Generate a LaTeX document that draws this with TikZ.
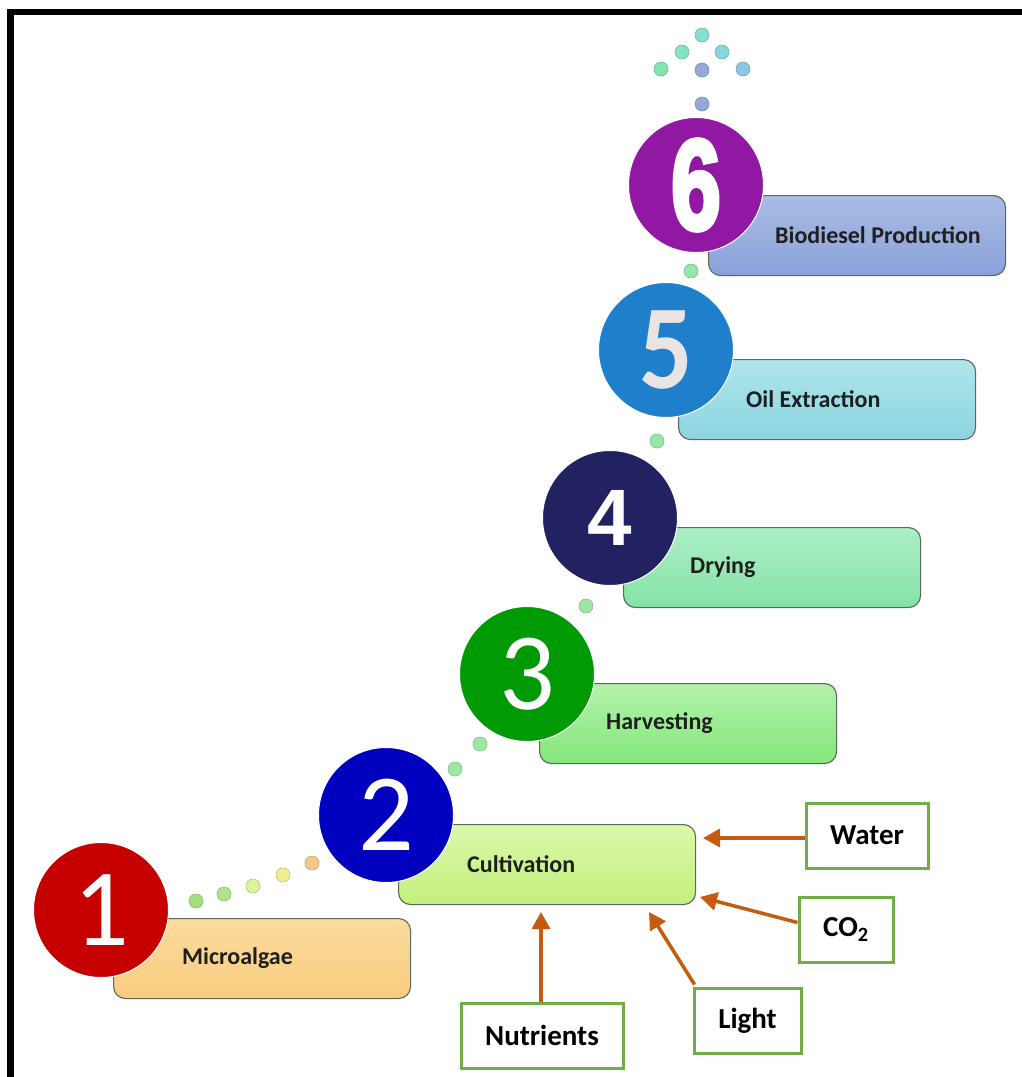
\documentclass[tikz,border=0pt]{standalone}
\usepackage{fontspec}
\usepackage{graphicx}
\setmainfont{Carlito}
\newfontfamily\numfont{Liberation Sans}
\newfontfamily\heavynum[BoldFeatures={FakeBold=4}]{Liberation Sans}
\usetikzlibrary{arrows.meta,calc}

% disc colours
\definecolor{discA}{HTML}{C60000}
\definecolor{discB}{HTML}{0000BE}
\definecolor{discC}{HTML}{009A05}
\definecolor{discD}{HTML}{222262}
\definecolor{discE}{HTML}{1F7FCB}
\definecolor{discF}{HTML}{9118A3}
% step box gradients
\definecolor{boxAt}{HTML}{FCDB9C}\definecolor{boxAb}{HTML}{F7CD80}
\definecolor{boxBt}{HTML}{DAF8AA}\definecolor{boxBb}{HTML}{C3EF7C}
\definecolor{boxCt}{HTML}{B2F2AA}\definecolor{boxCb}{HTML}{84E77A}
\definecolor{boxDt}{HTML}{ACEFC6}\definecolor{boxDb}{HTML}{84E2A6}
\definecolor{boxEt}{HTML}{AEE6EB}\definecolor{boxEb}{HTML}{8CD4DF}
\definecolor{boxFt}{HTML}{AABCE4}\definecolor{boxFb}{HTML}{8AA0DA}
\definecolor{boxline}{HTML}{5C675C}
\definecolor{inputgreen}{HTML}{70AD47}
\definecolor{feedbrown}{HTML}{C55A11}
\definecolor{fivegray}{HTML}{E8E4E4}
% trail dots
\definecolor{dA}{HTML}{A3DF7F}\definecolor{dB}{HTML}{AEE48C}
\definecolor{dC}{HTML}{DCF29C}\definecolor{dD}{HTML}{EFEF8E}
\definecolor{dE}{HTML}{F4C886}\definecolor{dG}{HTML}{9CE8A2}
\definecolor{dH}{HTML}{95E7AA}\definecolor{dI}{HTML}{93A9D9}
\definecolor{dJ}{HTML}{86E3AE}\definecolor{dK}{HTML}{86E2C2}
\definecolor{dL}{HTML}{86DFD0}\definecolor{dM}{HTML}{86D7DF}
\definecolor{dN}{HTML}{8CC7E6}

\begin{document}
\begin{tikzpicture}[x=1pt,y=-1pt,
  stepbox/.style={draw=boxline, line width=1.1pt, rounded corners=12pt,
    minimum width=297pt, minimum height=80pt, anchor=north west, inner sep=0pt},
  steplabel/.style={anchor=west, inner sep=0pt, text=black!88,
    font=\fontsize{24}{24}\selectfont\bfseries},
  stepdisc/.style={circle, minimum size=135pt, inner sep=0pt,
    draw=white, line width=1pt, text=white},
  dot/.style={fill=#1, draw=#1!82!black, line width=0.6pt},
  inputbox/.style={draw=inputgreen, line width=3pt, fill=white,
    minimum height=65pt, inner sep=0pt,
    font=\fontsize{29}{29}\selectfont\bfseries},
  feed/.style={draw=feedbrown, line width=3.5pt,
    -{Triangle[length=17pt,width=18pt]}}
]
\useasboundingbox (0,0) rectangle (1022,1077);
\fill[white] (0,0) rectangle (1022,1077);

% frame on the top and left edges
\fill[black] (7,9) rectangle (1022,15);
\fill[black] (7,9) rectangle (14,1077);

% step boxes
\node[stepbox, top color=boxAt, bottom color=boxAb] (b1) at (113,918) {};
\node[stepbox, top color=boxBt, bottom color=boxBb] (b2) at (398,824) {};
\node[stepbox, top color=boxCt, bottom color=boxCb] (b3) at (539,683) {};
\node[stepbox, top color=boxDt, bottom color=boxDb] (b4) at (623,527) {};
\node[stepbox, top color=boxEt, bottom color=boxEb] (b5) at (678,359) {};
\node[stepbox, top color=boxFt, bottom color=boxFb] (b6) at (708,195) {};

\node[steplabel] (l1) at ($(b1.west)+(69,0)$) {Microalgae};
\node[steplabel] (l2) at ($(b2.west)+(69,0)$) {Cultivation};
\node[steplabel] (l3) at ($(b3.west)+(67,0)$) {Harvesting};
\node[steplabel] (l4) at ($(b4.west)+(67,0)$) {Drying};
\node[steplabel] (l5) at ($(b5.west)+(68,0)$) {Oil Extraction};
\node[steplabel] (l6) at ($(b6.west)+(67,0)$) {Biodiesel Production};

% dotted trail between the discs
\path[dot=dA] (196,901) circle[radius=7];
\path[dot=dB] (224,894) circle[radius=7];
\path[dot=dC] (253,886) circle[radius=7];
\path[dot=dD] (283,875) circle[radius=7];
\path[dot=dE] (312,863) circle[radius=7];
\path[dot=dG] (455,769) circle[radius=7];
\path[dot=dG] (480,744) circle[radius=7];
\path[dot=dG] (586,606) circle[radius=7];
\path[dot=dH] (657,441) circle[radius=7];
\path[dot=dH] (691,271) circle[radius=7];
\path[dot=dI] (702,104) circle[radius=7];
\path[dot=dI] (702,70) circle[radius=7];
\path[dot=dJ] (661,69) circle[radius=7];
\path[dot=dK] (682,52) circle[radius=7];
\path[dot=dL] (702,35) circle[radius=7];
\path[dot=dM] (722,52) circle[radius=7];
\path[dot=dN] (743,69) circle[radius=7];

% numbered discs
\node[stepdisc, fill=discA, font=\fontsize{110}{110}\selectfont] (s1) at (101,910) {1};
\node[stepdisc, fill=discB, font=\fontsize{110}{110}\selectfont] (s2) at (386,815) {2};
\node[stepdisc, fill=discC, font=\fontsize{110}{110}\selectfont] (s3) at (527,674) {3};
\node[stepdisc, fill=discD, font=\numfont\bfseries\fontsize{80}{80}\selectfont] (s4) at (610,518) {\raisebox{-10pt}{4}};
\node[stepdisc, fill=discE, text=fivegray, font=\bfseries\fontsize{120}{120}\selectfont] (s5) at (666,350) {\scalebox{0.88}[1]{5}};
\node[stepdisc, fill=discF, font=\heavynum\bfseries\fontsize{128}{128}\selectfont] (s6) at (696,185) {\raisebox{-5pt}{\scalebox{0.7}[1]{6}}};

% cultivation inputs
\node[inputbox, minimum width=122pt] (water) at (867,835.5) {Water};
\node[inputbox, minimum width=94pt] (co2) at (846,929.5) {CO\textsubscript{2}};
\node[inputbox, minimum width=107pt] (light) at (747.5,1020.5) {Light};
\node[inputbox, minimum width=162pt] (nutr) at (542,1035.5) {Nutrients};

\coordinate (wtip) at (703,838);
\coordinate (ctip) at (700,897);
\coordinate (ltip) at (649,912);
\coordinate (ntip) at (541,912);

\draw[feed] (water.west |- wtip) -- (wtip);
\draw[feed] ($(co2.west)+(0,-7)$) -- (ctip);
\draw[feed] ($(light.north west)+(2,-2)$) -- (ltip);
\draw[feed] (nutr.north -| ntip) -- (ntip);
\end{tikzpicture}
\end{document}
